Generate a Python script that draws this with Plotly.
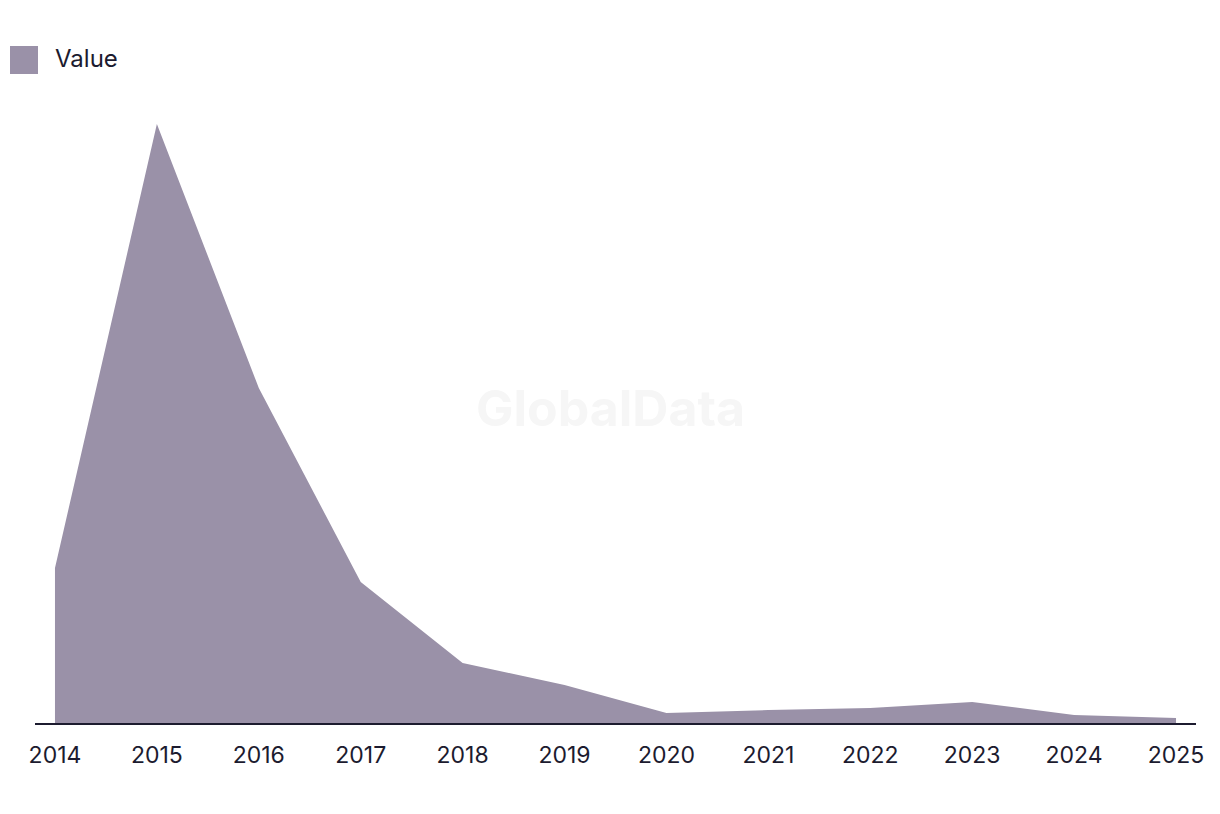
import plotly.graph_objects as go

years = [2014, 2015, 2016, 2017, 2018, 2019, 2020, 2021, 2022, 2023, 2024, 2025]
values = [155, 599, 335, 141, 60, 38, 10, 13, 15, 21, 8, 5]
series_name = "Value"

fill_color = "#9a91a8"
text_color = "#1c1b2f"

fig = go.Figure()
fig.add_trace(go.Scatter(
    x=years, y=values, mode="lines", fill="tozeroy",
    fillcolor=fill_color, line=dict(width=0, color=fill_color),
    name=series_name, showlegend=False, hoverinfo="x+y",
))

fig.update_layout(
    width=1220, height=814,
    margin=dict(l=35, r=24, t=100, b=91),
    paper_bgcolor="white", plot_bgcolor="white",
    font=dict(family="Inter, Liberation Sans, sans-serif", color=text_color, size=23),
    xaxis=dict(
        range=[2013.804, 2025.196], tickmode="array", tickvals=years,
        ticktext=[str(y) for y in years], showgrid=False, zeroline=False,
        showline=True, linecolor=text_color, linewidth=2,
        ticks="outside", ticklen=10, tickcolor="rgba(0,0,0,0)",
        tickfont=dict(size=23, color=text_color),
    ),
    yaxis=dict(range=[0, 623], visible=False, showgrid=False, zeroline=False),
    shapes=[dict(type="rect", xref="paper", yref="paper",
                 x0=(10 - 35) / 1161, x1=(38 - 35) / 1161,
                 y0=(723 - 74) / 623, y1=(723 - 46) / 623,
                 fillcolor=fill_color, line=dict(width=0))],
    annotations=[
        dict(text=series_name, xref="paper", yref="paper",
             x=(53 - 35) / 1161, y=(723 - 58) / 623, xanchor="left", yanchor="middle",
             showarrow=False, font=dict(size=24, color=text_color)),
        dict(text="<b>GlobalData</b>", xref="paper", yref="paper",
             x=(610 - 35) / 1161, y=(723 - 408) / 623, xanchor="center", yanchor="middle",
             showarrow=False, font=dict(size=50, color="#f6f6f6")),
    ],
)

fig.write_html("out.html")
